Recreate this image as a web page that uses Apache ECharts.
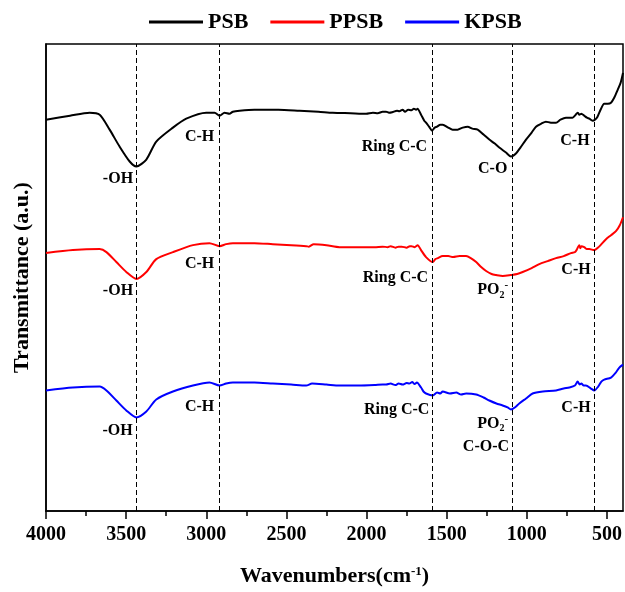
<!DOCTYPE html>
<html>
<head>
<meta charset="utf-8">
<script src="https://cdn.jsdelivr.net/npm/echarts@6/dist/echarts.min.js"></script>
<style>
  html, body { margin: 0; padding: 0; background: #fff; }
  #chart { width: 625px; height: 592px; }
</style>
</head>
<body>
<div id="chart"></div>
<script>
// FTIR spectra, transmittance in arbitrary units (curves offset vertically)
const seriesNames = ['PSB', 'PPSB', 'KPSB'];
const seriesColors = ['#000000', '#ff0000', '#0000ff'];

const psb = [
  [4000,393],[3850,397],[3728,400],[3665,398],[3603,383],[3541,366],[3478,351],[3436,346],
  [3374,353],[3312,371],[3208,385],[3125,394],[3000,400],[2948,400],[2917,397],[2886,400],
  [2855,399],[2834,401],[2792,402],[2700,403],[2550,403],[2418,402],[2300,401],[2211,400],
  [2100,399.5],[2003,399],[1960,400],[1930,399.5],[1900,401],[1878,401],[1860,400],[1840,400.5],
  [1810,402],[1795,401.5],[1775,403],[1760,401],[1740,403],[1720,402.5],[1705,404],[1691,403],
  [1682,404],[1660,398],[1640,392],[1629,390],[1610,386],[1591,382],[1575,385],[1560,386],
  [1540,388],[1525,388],[1490,385],[1463,383],[1432,383],[1400,385],[1369,386],[1340,384],
  [1307,383],[1270,378],[1234,373],[1200,369],[1172,365],[1130,360],[1099,356],[1068,359],
  [1040,365],[1005,373],[970,380],[943,386],[910,389],[881,391],[850,390],[818,390],
  [790,393],[756,395],[715,395],[695,398],[683,400],[672,398],[660,399],[642,397],
  [625,395],[610,394],[590,392],[575,393],[559,396],[540,403],[517,409],[495,409],
  [475,410],[455,415],[433,423],[415,430],[400,440]
];

const ppsb = [
  [4000,259],[3832,262],[3665,263],[3623,260],[3561,250],[3499,240],[3436,233],[3374,240],
  [3312,253],[3208,260],[3083,267],[2980,269],[2917,266],[2876,268],[2834,269],[2700,269],
  [2585,268],[2470,267],[2377,266],[2360,265.5],[2330,268],[2250,267],[2169,265],[2050,265],
  [1950,265],[1900,265.5],[1868,265],[1850,266],[1820,264.5],[1800,265.5],[1780,265.5],[1750,264.5],
  [1730,266],[1720,266],[1700,265],[1681,267],[1660,262],[1629,255],[1587,250],[1570,253],
  [1555,254],[1525,256],[1490,256],[1460,255],[1420,256],[1379,256],[1350,254],[1316,250],
  [1285,245],[1254,241],[1220,238],[1192,237],[1150,236],[1099,237],[1060,238],[1026,240],
  [970,244],[922,248],[870,251],[818,254],[770,256],[725,259],[700,260],[690,262],
  [673,267],[666,264],[660,266],[642,265],[625,263],[610,263],[579,262],[560,264],
  [540,267],[506,273],[475,277],[444,281],[420,287],[400,295]
];

const kpsb = [
  [4000,121],[3832,124],[3665,125],[3623,121],[3561,111],[3499,101],[3436,94],[3374,100],
  [3312,112],[3208,120],[3083,126],[2980,129],[2917,126],[2876,128],[2834,129],[2700,129],
  [2585,128],[2470,127],[2377,126],[2340,128],[2250,127],[2169,126],[2050,126],[1950,126.5],
  [1900,127],[1878,127],[1850,128],[1820,126.5],[1800,128],[1775,127],[1750,128.5],[1733,128],
  [1715,129.5],[1700,127.5],[1686,129],[1660,124],[1645,120],[1629,118],[1587,116],[1560,119],
  [1540,118],[1525,120],[1480,118],[1440,119],[1410,117],[1379,118],[1316,117],[1270,114],
  [1234,111],[1190,108],[1151,106],[1120,104],[1099,102],[1075,104],[1047,108],[1005,113],
  [964,118],[900,120],[818,121],[770,123],[735,124],[700,126],[683,130],[670,127],
  [660,128],[645,126],[631,126],[600,123],[579,121],[555,125],[535,130],[517,132],
  [475,134],[445,139],[423,144],[400,147]
];

// band assignments (dashed guides)
const bandCenters = [3435, 2920, 1590, 1090, 580];

// band labels: wavenumber, transmittance, text
const bandLabels = [
  [3551, 334, '-OH'], [3042, 376, 'C-H'], [1826, 366, 'Ring C-C'], [1213, 344, 'C-O'], [700, 372, 'C-H'],
  [3551, 221, '-OH'], [3042, 248, 'C-H'], [1820, 234, 'Ring C-C'], [1213, 222, '{t|PO}{sub|2}{sup|-}'], [693, 242, 'C-H'],
  [3553, 80, '-OH'], [3042, 105, 'C-H'], [1812, 102, 'Ring C-C'], [1213, 88, '{t|PO}{sub|2}{sup|-}'], [1255, 64, 'C-O-C'], [693, 104, 'C-H']
];

const xMajorTicks = [4000, 3500, 3000, 2500, 2000, 1500, 1000, 500];
const xMinorTicks = [3750, 3250, 2750, 2250, 1750, 1250, 750];

const FONT = "'Liberation Serif', 'Times New Roman', serif";

const chart = echarts.init(document.getElementById('chart'), null, { renderer: 'canvas' });

const lineSeries = [psb, ppsb, kpsb].map((d, i) => ({
  name: seriesNames[i],
  type: 'line',
  data: d,
  showSymbol: false,
  symbol: 'none',
  smooth: 0.25,
  lineStyle: { color: seriesColors[i], width: 2 },
  itemStyle: { color: seriesColors[i] },
  z: 3
}));

lineSeries[0].markLine = {
  silent: true,
  symbol: ['none', 'none'],
  label: { show: false },
  lineStyle: { color: '#000', width: 1, type: [5, 3] },
  data: bandCenters.map(v => ({ xAxis: v }))
};

const labelStyle = { fontFamily: FONT, fontWeight: 'bold', color: '#000', textBorderWidth: 0, opacity: 1 };

const option = {
  animation: false,
  backgroundColor: '#ffffff',
  grid: {
    left: 46, right: 2, top: 44, bottom: 79,
    show: true, borderColor: '#000', borderWidth: 1.5, backgroundColor: 'transparent'
  },
  legend: {
    top: 6,
    left: 144,
    icon: 'rect',
    itemWidth: 54,
    itemHeight: 3,
    itemGap: 22,
    data: seriesNames,
    textStyle: { fontFamily: FONT, fontWeight: 'bold', fontSize: 22, color: '#000' }
  },
  xAxis: [{
    type: 'value',
    inverse: true,
    min: 400,
    max: 4000,
    position: 'bottom',
    name: 'Wavenumbers(cm{sup|-1})',
    nameLocation: 'middle',
    nameGap: 54,
    nameTextStyle: {
      fontFamily: FONT, fontWeight: 'bold', fontSize: 22, color: '#000',
      rich: {
        sup: { fontFamily: FONT, fontWeight: 'bold', fontSize: 13, verticalAlign: 'top', lineHeight: 12, color: '#000' }
      }
    },
    axisLine: { show: true, lineStyle: { color: '#000', width: 1.5 } },
    axisTick: { show: true, inside: false, length: 8, customValues: xMajorTicks, lineStyle: { color: '#000', width: 1.5 } },
    axisLabel: {
      show: true, customValues: xMajorTicks, margin: 14,
      formatter: v => String(v),
      fontFamily: FONT, fontWeight: 'bold', fontSize: 20, color: '#000'
    },
    splitLine: { show: false }
  }, {
    type: 'value',
    inverse: true,
    min: 400,
    max: 4000,
    position: 'bottom',
    axisLine: { show: false },
    axisTick: { show: true, inside: false, length: 5, customValues: xMinorTicks, lineStyle: { color: '#000', width: 1.5 } },
    axisLabel: { show: false },
    splitLine: { show: false }
  }],
  yAxis: {
    type: 'value',
    min: 0,
    max: 469,
    name: 'Transmittance (a.u.)',
    nameLocation: 'middle',
    nameGap: 13,
    nameRotate: 90,
    nameTextStyle: { fontFamily: FONT, fontWeight: 'bold', fontSize: 22, color: '#000' },
    axisLine: { show: true, lineStyle: { color: '#000', width: 1.5 } },
    axisTick: { show: false },
    axisLabel: { show: false },
    splitLine: { show: false }
  },
  series: lineSeries.concat([{
    name: 'bands',
    type: 'scatter',
    data: bandLabels.map(d => ({ value: [d[0], d[1]], text: d[2] })),
    symbolSize: 0,
    silent: true,
    z: 4,
    itemStyle: { opacity: 1, color: '#000' },
    label: Object.assign({
      show: true,
      position: 'inside',
      formatter: p => p.data.text,
      fontSize: 16,
      rich: {
        t: Object.assign({ fontSize: 16, lineHeight: 20 }, labelStyle),
        sub: Object.assign({ fontSize: 10, lineHeight: 10, verticalAlign: 'bottom' }, labelStyle),
        sup: Object.assign({ fontSize: 11, lineHeight: 10, verticalAlign: 'top' }, labelStyle)
      }
    }, labelStyle)
  }])
};

chart.setOption(option);
</script>
</body>
</html>
